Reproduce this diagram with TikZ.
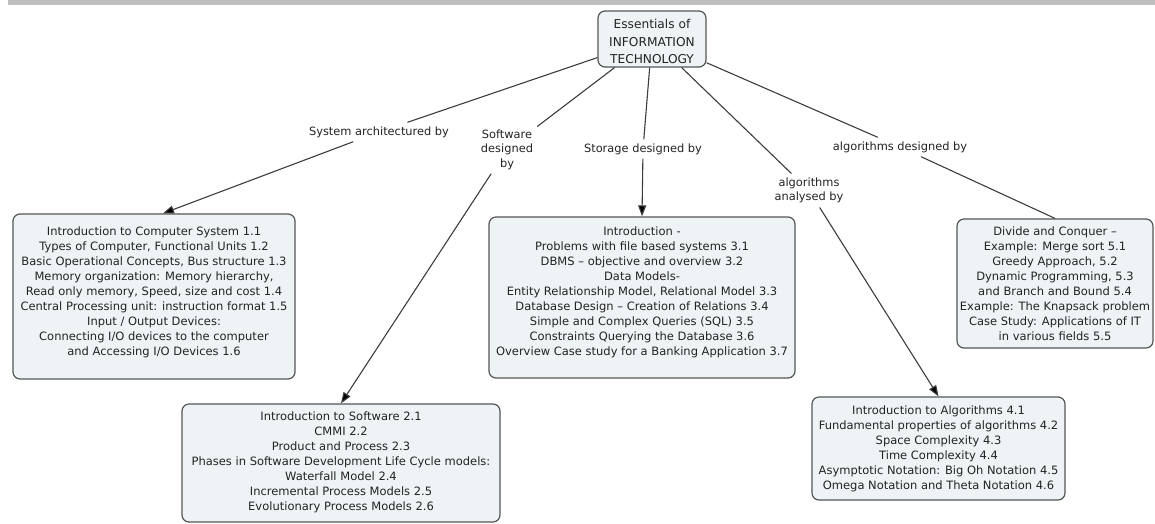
\documentclass[tikz,border=0pt]{standalone}
\usepackage{fontspec}
\setmainfont{DejaVu Sans}
\usetikzlibrary{arrows.meta,calc}
\definecolor{boxfill}{RGB}{238,243,246}
\definecolor{boxline}{RGB}{85,85,85}
\definecolor{txtc}{RGB}{35,35,35}
\definecolor{connc}{RGB}{60,60,60}
\definecolor{barg}{RGB}{191,191,191}
\begin{document}
\begin{tikzpicture}[x=1pt,y=-1pt,
  cbox/.style={draw=boxline, fill=boxfill, line width=1.2pt, rounded corners=7pt, inner sep=0pt},
  btext/.style={align=center, inner sep=0pt, text=txtc, font=\fontsize{11.5}{15}\selectfont, anchor=north},
  lbl/.style={align=center, inner sep=4pt, text=txtc, font=\fontsize{11.4}{14.5}\selectfont},
  link/.style={draw=connc, line width=1.1pt},
  arr/.style={link, -{Triangle[length=11pt,width=8pt,fill=black]}}]
\useasboundingbox (0,0) rectangle (1155,523);
\fill[barg] (8,0) rectangle (1155,5);

% boxes
\node[cbox, minimum width=108pt, minimum height=56pt] (root) at (652,39) {};
\node[btext, font=\fontsize{12.2}{17.5}\selectfont] (rt) at (652,19.5) {Essentials of\\INFORMATION\\TECHNOLOGY};

\node[cbox, minimum width=282pt, minimum height=165pt] (b1) at (154,296.5) {};
\node[btext] (t1) at (154,227) {Introduction to Computer System 1.1\\
Types of Computer, Functional Units 1.2\\
Basic Operational Concepts, Bus structure 1.3\\
Memory organization: Memory hierarchy,\\
Read only memory, Speed, size and cost 1.4\\
Central Processing unit: instruction format 1.5\\
Input / Output Devices:\\
Connecting I/O devices to the computer\\
and Accessing I/O Devices 1.6};

\node[cbox, minimum width=318pt, minimum height=118pt] (b2) at (341,463) {};
\node[btext] (t2) at (341,412) {Introduction to Software 2.1\\
CMMI 2.2\\
Product and Process 2.3\\
Phases in Software Development Life Cycle models:\\
Waterfall Model 2.4\\
Incremental Process Models 2.5\\
Evolutionary Process Models 2.6};

\node[cbox, minimum width=306pt, minimum height=161pt] (b3) at (642,297.5) {};
\node[btext] (t3) at (642,227) {Introduction -\\
Problems with file based systems 3.1\\
DBMS – objective and overview 3.2\\
Data Models-\\
Entity Relationship Model, Relational Model 3.3\\
Database Design – Creation of Relations 3.4\\
Simple and Complex Queries (SQL) 3.5\\
Constraints Querying the Database 3.6\\
Overview Case study for a Banking Application 3.7};

\node[cbox, minimum width=253pt, minimum height=103pt] (b4) at (938.5,448.5) {};
\node[btext] (t4) at (938.5,406) {Introduction to Algorithms 4.1\\
Fundamental properties of algorithms 4.2\\
Space Complexity 4.3\\
Time Complexity 4.4\\
Asymptotic Notation: Big Oh Notation 4.5\\
Omega Notation and Theta Notation 4.6};

\node[cbox, minimum width=196pt, minimum height=129pt] (b5) at (1055,283.5) {};
\node[btext] (t5) at (1055,227) {Divide and Conquer –\\
Example: Merge sort 5.1\\
Greedy Approach, 5.2\\
Dynamic Programming, 5.3\\
and Branch and Bound 5.4\\
Example: The Knapsack problem\\
Case Study: Applications of IT\\
in various fields 5.5};

% labels
\node[lbl] (l1) at (379,132) {System architectured by};
\node[lbl] (l2) at (507,149.5) {Software\\designed\\by};
\node[lbl] (l3) at (643,149) {Storage designed by};
\node[lbl] (l4) at (809,190.5) {algorithms\\analysed by};
\node[lbl] (l5) at (900,147) {algorithms designed by};

% connectors
\draw[link] (root) -- (l1);
\draw[arr] (l1) -- ($(b1.north)+(9,0)$);
\draw[link] (root) -- (l2);
\draw[arr] (l2) -- (b2.north);
\draw[link] (root) -- (l3);
\draw[arr] (l3) -- (b3.north);
\draw[link] (root) -- (l4);
\draw[arr] (l4) -- (b4.north);
\draw[link] (root) -- (l5);
\draw[link] (l5) -- (b5.north);
\end{tikzpicture}
\end{document}
